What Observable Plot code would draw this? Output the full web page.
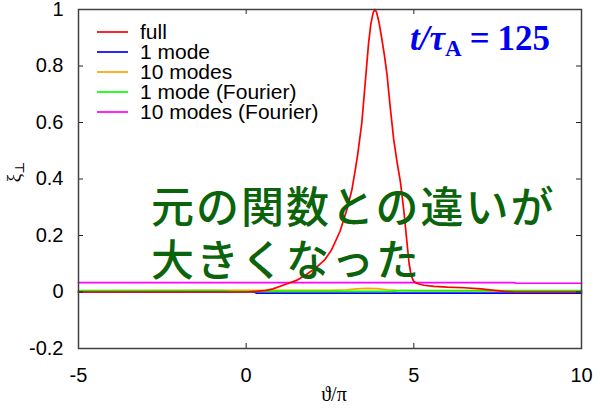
<!DOCTYPE html>
<html>
<head>
<meta charset="utf-8">
<script src="https://cdn.jsdelivr.net/npm/d3@7"></script>
<script src="https://cdn.jsdelivr.net/npm/@observablehq/plot@0.6"></script>
<style>
  body { margin: 0; background: #fff; }
  #chart { position: relative; width: 600px; height: 410px; }
</style>
</head>
<body>
<div id="chart"></div>
<script>
// Perturbation profile ξ⊥ along ϑ/π and its truncated-mode reconstructions
const thetaTicks = [-5, 0, 5, 10];
const xiTicks = [-0.2, 0, 0.2, 0.4, 0.6, 0.8, 1];

const seriesNames = ["full", "1 mode", "10 modes", "1 mode (Fourier)", "10 modes (Fourier)"];
const seriesColors = ["#ff0000", "#0000ff", "#ffa500", "#00ff00", "#ff00ff"];

// full profile
const fullTheta = [-5, 0, 0.3, 0.6, 0.8, 1.1, 1.5, 1.8, 2.1, 2.35, 2.55, 2.8, 3.0, 3.15, 3.25, 3.33, 3.45, 3.55, 3.65, 3.72, 3.79, 3.84, 3.89, 3.96, 4.04, 4.12, 4.2, 4.3, 4.4, 4.5, 4.6, 4.7, 4.8, 4.86, 4.92, 5.0, 5.1, 5.3, 5.6, 6.0, 6.5, 7.0, 7.4, 7.7, 8.0, 10];
const fullXi    = [0, 0, 0.002, 0.006, 0.011, 0.024, 0.041, 0.062, 0.088, 0.115, 0.15, 0.215, 0.29, 0.36, 0.43, 0.49, 0.6, 0.74, 0.88, 0.95, 0.99, 1.0, 0.99, 0.955, 0.9, 0.84, 0.77, 0.65, 0.54, 0.46, 0.39, 0.29, 0.17, 0.1, 0.058, 0.037, 0.03, 0.024, 0.02, 0.017, 0.015, 0.011, 0.006, 0.002, 0, 0];

// 1 mode
const mode1Theta = [-5, 0.25, 0.3, 10];
const mode1Xi    = [0, 0, -0.004, -0.004];

// 10 modes
const mode10Theta = [-5, -0.7, 2.5, 3.0, 3.3, 3.6, 3.9, 4.2, 4.5, 5.0, 10];
const mode10Xi    = [0.004, 0.006, 0.006, 0.008, 0.011, 0.013, 0.012, 0.008, 0.006, 0.004, 0.004];

// 1 mode (Fourier)
const four1Theta = [-5, -0.7, -0.4, 4.3, 4.6, 10];
const four1Xi    = [0.005, 0.005, 0.002, 0.002, 0.005, 0.005];

// 10 modes (Fourier)
const four10Theta = [-5, 8.0, 8.05, 10];
const four10Xi    = [0.033, 0.033, 0.031, 0.031];

const toRows = (th, xi) => th.map((t, i) => ({theta: t, xi: xi[i]}));
const rows = [
  toRows(fullTheta, fullXi),
  toRows(mode1Theta, mode1Xi),
  toRows(mode10Theta, mode10Xi),
  toRows(four1Theta, four1Xi),
  toRows(four10Theta, four10Xi)
];

const W = 600, H = 410, mL = 78, mR = 19, mT = 9, mB = 62;
const innerW = W - mL - mR, innerH = H - mT - mB;
const tk = 5;
const font = "'Liberation Sans', Arial, Helvetica, sans-serif";
const serif = "'Liberation Serif', 'DejaVu Serif', serif";

// drawing order: reconstructions first, full profile on top
const order = [1, 2, 3, 4, 0];

const chart = Plot.plot({
  width: W, height: H,
  marginLeft: mL, marginRight: mR, marginTop: mT, marginBottom: mB,
  x: {domain: [-5, 10]},
  y: {domain: [-0.2, 1]},
  style: {fontFamily: font, fontSize: "20px", color: "#000", background: "#fff", overflow: "visible"},
  marks: [
    ...order.map(i => Plot.line(rows[i], {x: "theta", y: "xi", stroke: seriesColors[i], strokeWidth: 1.7})),
    Plot.tickX(thetaTicks, {x: d => d, insetTop: innerH - tk, stroke: "#222"}),
    Plot.tickX(thetaTicks, {x: d => d, insetBottom: innerH - tk, stroke: "#222"}),
    Plot.tickY(xiTicks, {y: d => d, insetRight: innerW - tk, stroke: "#222"}),
    Plot.tickY(xiTicks, {y: d => d, insetLeft: innerW - tk, stroke: "#222"}),
    Plot.frame({stroke: "#404040", strokeWidth: 1.5}),
    Plot.axisX(thetaTicks, {tickSize: 0, tickPadding: 19, tickFormat: d => String(d), label: null}),
    Plot.axisY(xiTicks, {tickSize: 0, tickPadding: 15, tickFormat: d => String(d), label: null})
  ]
});
document.getElementById("chart").appendChild(chart);

const svg = d3.select(chart);
const txt = () => svg.append("text").attr("text-anchor", "start");

// legend (top-left, inside the frame)
seriesNames.forEach((name, i) => {
  const y = 32 + i * 20;
  svg.append("line").attr("x1", 97).attr("x2", 128).attr("y1", y).attr("y2", y)
    .attr("stroke", seriesColors[i]).attr("stroke-width", 1.7);
  txt().attr("x", 140).attr("y", y + 7)
    .attr("font-family", font).attr("font-size", 21).attr("fill", "#000").text(name);
});

// time stamp
const ts = txt().attr("x", 410).attr("y", 50)
  .attr("font-family", serif).attr("font-size", 35)
  .attr("font-weight", "bold").attr("fill", "#0000f0");
ts.append("tspan").attr("font-style", "italic").text("t");
ts.append("tspan").attr("font-style", "italic").text("/");
ts.append("tspan").attr("font-style", "italic").text("τ");
ts.append("tspan").attr("font-size", 23).attr("dy", 6).text("A");
ts.append("tspan").attr("dy", -6).attr("dx", 8).text("=");
ts.append("tspan").attr("dx", 8).text("125");

// axis labels
svg.append("text").attr("x", 334).attr("y", 401).attr("text-anchor", "middle")
  .attr("font-family", serif).attr("font-size", 20)
  .attr("fill", "#000").text("ϑ/π");
const yl = svg.append("text").attr("transform", "translate(20,172) rotate(-90)")
  .attr("text-anchor", "middle")
  .attr("font-family", serif).attr("font-size", 19).attr("fill", "#000");
yl.append("tspan").text("ξ");
yl.append("tspan").attr("font-size", 13).attr("dy", 4).text("⊥");

// note
const noteLines = ["元の関数との違いが", "大きくなった"];
noteLines.forEach((s, i) => {
  txt().attr("x", 151).attr("y", 223 + i * 53)
    .attr("font-family", "'Noto Sans CJK JP', sans-serif").attr("font-size", 43)
    .attr("font-weight", 500)
    .attr("letter-spacing", 2).attr("fill", "#0b640b").text(s);
});
</script>
</body>
</html>
